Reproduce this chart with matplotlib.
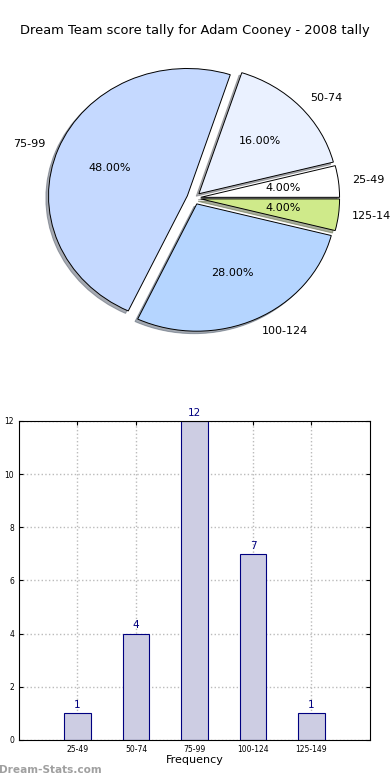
import matplotlib
matplotlib.use("Agg")
import matplotlib.pyplot as plt

# score bands and how many games fell in each
bands = ["25-49", "50-74", "75-99", "100-124", "125-149"]
counts = [1, 4, 12, 7, 1]
slice_colors = ["#ffffff", "#eaf1ff", "#c5d9ff", "#b5d5ff", "#cfea8a"]

fig = plt.figure(figsize=(3.9, 7.8), dpi=100)
fig.text(0.5, 0.961, "Dream Team score tally for Adam Cooney - 2008 tally",
         ha="center", va="center", fontsize=9.35)

# pie on top
ax1 = fig.add_axes([0.052, 0.542, 0.89, 0.408])
wedges, texts, autotexts = ax1.pie(
    counts, labels=bands, colors=slice_colors, explode=[0.05] * len(counts),
    autopct="%1.2f%%", shadow=dict(ox=-0.014, oy=-0.014, shade=0.6),
    startangle=0,
    wedgeprops=dict(edgecolor="black", linewidth=0.7),
    textprops=dict(fontsize=8))
ax1.set_aspect("auto")
ax1.set_xlim(-1.25, 1.25)
ax1.set_ylim(-1.25, 1.25)

# bar chart below
ax2 = fig.add_axes([0.0487, 0.0513, 0.9, 0.409])
pos = list(range(1, len(bands) + 1))
bars = ax2.bar(pos, counts, width=0.45, color="#cdcde3", edgecolor="#000080",
               linewidth=0.8, zorder=2)
for p, c in zip(pos, counts):
    ax2.text(p, c + 0.12, str(c), ha="center", va="bottom", fontsize=7.5,
             color="#000080")
ax2.set_xlim(0, 6)
ax2.set_ylim(0, 12)
ax2.set_xticks(pos)
ax2.set_xticklabels(bands)
ax2.set_yticks(range(0, 13, 2))
ax2.tick_params(labelsize=5.5, direction="in", top=True, right=True, length=3)
ax2.grid(True, linestyle=":", color="#bbbbbb", linewidth=1, zorder=0)
ax2.set_xlabel("Frequency", fontsize=8, labelpad=1)
ax2.set_ylabel("Score Intervals", fontsize=8)
ax2.yaxis.set_label_coords(-0.07, 0.5)

fig.text(-0.003, 0.0125, "Dream-Stats.com", fontsize=7.6, color="#a0a0a0",
         fontweight="bold", ha="left", va="center")

fig.savefig("out.png", dpi=100)
